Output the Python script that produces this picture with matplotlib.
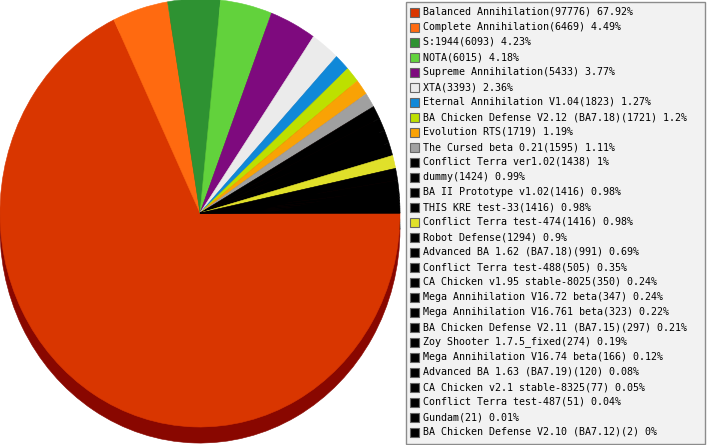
import matplotlib
matplotlib.use("Agg")
import matplotlib.pyplot as plt
from matplotlib.patches import Rectangle
from matplotlib.colors import to_rgb

names = ["Balanced Annihilation", "Complete Annihilation", "S:1944", "NOTA",
         "Supreme Annihilation", "XTA", "Eternal Annihilation V1.04",
         "BA Chicken Defense V2.12 (BA7.18)", "Evolution RTS", "The Cursed beta 0.21",
         "Conflict Terra ver1.02", "dummy", "BA II Prototype v1.02", "THIS KRE test-33",
         "Conflict Terra test-474", "Robot Defense", "Advanced BA 1.62 (BA7.18)",
         "Conflict Terra test-488", "CA Chicken v1.95 stable-8025",
         "Mega Annihilation V16.72 beta", "Mega Annihilation V16.761 beta",
         "BA Chicken Defense V2.11 (BA7.15)", "Zoy Shooter 1.7.5_fixed",
         "Mega Annihilation V16.74 beta", "Advanced BA 1.63 (BA7.19)",
         "CA Chicken v2.1 stable-8325", "Conflict Terra test-487", "Gundam",
         "BA Chicken Defense V2.10 (BA7.12)"]
counts = [97776, 6469, 6093, 6015, 5433, 3393, 1823, 1721, 1719, 1595,
          1438, 1424, 1416, 1416, 1416, 1294, 991, 505, 350, 347, 323,
          297, 274, 166, 120, 77, 51, 21, 2]
colors = ["#d93600", "#ff6a10", "#2e9232", "#62d23c", "#7e0a7e", "#ebebeb",
          "#1088d8", "#bde000", "#f9a205", "#a0a0a0",
          "#000000", "#000000", "#000000", "#000000", "#e0e02a"] + ["#000000"] * 14

total = sum(counts)
labels = []
for n, c in zip(names, counts):
    pct = round(100.0 * c / total, 2)
    labels.append(f"{n}({c}) {pct:g}%")


def darker(c, f=0.63):
    r, g, b = to_rgb(c)
    return (r * f, g * f * 0.2, b * f * 0.2)


fig = plt.figure(figsize=(7.07, 4.45), dpi=100)

# pie (slightly tall ellipse with a dark rim underneath)
ax = fig.add_axes([0, 18 / 445, 400 / 707, 428 / 445])
shadow, _ = ax.pie(counts, colors=[darker(c) for c in colors], startangle=0,
                   counterclock=False, center=(0, -0.075),
                   wedgeprops=dict(clip_on=False))
top, _ = ax.pie(counts, colors=colors, startangle=0, counterclock=False,
                wedgeprops=dict(clip_on=False))
for w in list(shadow) + list(top):
    w.set_edgecolor(w.get_facecolor())
    w.set_linewidth(0.4)
ax.set_aspect("auto")
ax.set_xlim(-1, 1)
ax.set_ylim(-1, 1)
ax.axis("off")

# legend drawn in pixel coordinates
lg = fig.add_axes([0, 0, 1, 1], zorder=5)
lg.set_xlim(0, 707)
lg.set_ylim(445, 0)
lg.axis("off")
lg.add_patch(Rectangle((405.5, 1.5), 299.5, 442, facecolor="#f2f2f2",
                       edgecolor="#8c8c8c", linewidth=1))
for i, (lab, col) in enumerate(zip(labels, colors)):
    y = 12 + 15 * i
    lg.add_patch(Rectangle((410, y - 4.5), 9, 9, facecolor=col,
                           edgecolor="#666666", linewidth=0.8))
    lg.text(423, y, lab, va="center", ha="left", fontsize=7.2,
            family="DejaVu Sans Mono", color="#000000")

fig.savefig("out.png", dpi=100)
